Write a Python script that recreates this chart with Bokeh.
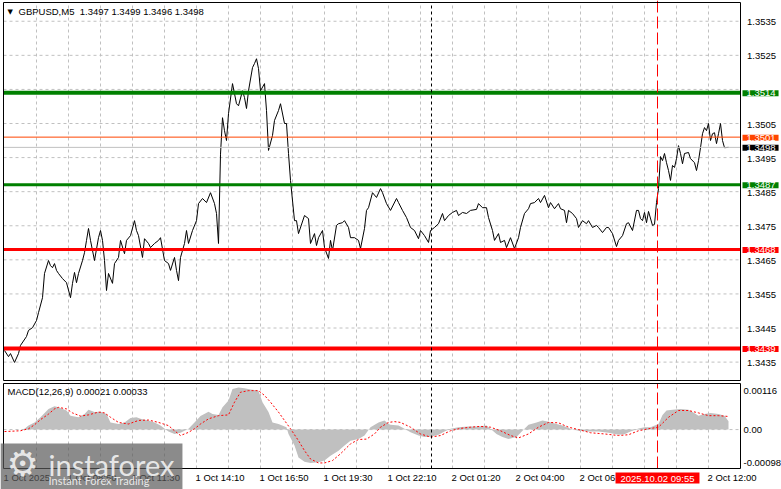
from bokeh.plotting import figure
from bokeh.layouts import column
from bokeh.models import Label, Range1d
from bokeh.embed import file_html
from bokeh.resources import INLINE

# ---------------- data ----------------
symbol_title = "GBPUSD,M5\u00a0\u00a01.3497 1.3499 1.3496 1.3498"
macd_title = "MACD(12,26,9) 0.00021 0.00033"

bar_idx = [
    0, 2, 3, 5, 7, 8, 11, 12, 14, 16,
    17, 19, 20, 22, 23, 24, 25, 26, 27, 29,
    31, 33, 34, 35, 36, 37, 39, 40, 41, 42,
    43, 45, 47, 48, 49, 50, 51, 52, 54, 55,
    57, 58, 60, 61, 63, 65, 66, 67, 69, 70,
    72, 73, 75, 77, 78, 80, 82, 83, 85, 86,
    87, 88, 90, 91, 92, 94, 96, 97, 99, 101,
    103, 105, 106, 107, 108, 109, 110, 111, 112, 114,
    116, 117, 119, 120, 121, 122, 124, 125, 126, 127,
    128, 130, 131, 132, 134, 135, 137, 138, 140, 141,
    142, 143, 145, 146, 147, 150, 152, 153, 155, 156,
    157, 159, 160, 162, 163, 164, 166, 167, 169, 170,
    172, 173, 175, 177, 178, 180, 181, 182, 184, 186,
    188, 189, 191, 193, 196, 197, 199, 201, 203, 205,
    207, 208, 210, 212, 213, 215, 217, 219, 220, 222,
    224, 226, 227, 229, 231, 233, 236, 237, 239, 241,
    242, 244, 245, 247, 248, 250, 251, 253, 255, 257,
    258, 260, 262, 263, 265, 267, 268, 270, 272, 273,
    275, 277, 278, 280, 281, 282, 284, 286, 287, 289,
    291, 292, 294, 296, 297, 299, 301, 302, 304, 306,
    307, 309, 311, 312, 314, 316, 317, 318, 319, 320,
    321, 322, 324, 325, 326, 327, 328, 329, 330, 331,
    332, 333, 334, 335, 336, 337, 338, 339, 340, 342,
    343, 345, 346, 347, 348, 349, 350, 351, 352, 353,
    354, 355, 356, 357, 358, 359, 360, 362,
]
close = [
    1.34384, 1.34366, 1.34375, 1.34349, 1.34375, 1.34399, 1.34425, 1.34443, 1.34451, 1.34472,
    1.34495, 1.34539, 1.34610, 1.34648, 1.34633, 1.34627, 1.34639, 1.34619, 1.34610, 1.34595,
    1.34583, 1.34539, 1.34581, 1.34613, 1.34583, 1.34610, 1.34648, 1.34671, 1.34707, 1.34742,
    1.34707, 1.34648, 1.34715, 1.34736, 1.34707, 1.34648, 1.34560, 1.34610, 1.34581, 1.34639,
    1.34657, 1.34707, 1.34668, 1.34707, 1.34721, 1.34765, 1.34736, 1.34721, 1.34657, 1.34712,
    1.34698, 1.34686, 1.34698, 1.34707, 1.34715, 1.34648, 1.34639, 1.34619, 1.34657, 1.34619,
    1.34589, 1.34657, 1.34698, 1.34736, 1.34698, 1.34736, 1.34765, 1.34815, 1.34830, 1.34818,
    1.34847, 1.34815, 1.34786, 1.34698, 1.34960, 1.35067, 1.35029, 1.35000, 1.35079, 1.35167,
    1.35108, 1.35102, 1.35146, 1.35126, 1.35094, 1.35146, 1.35214, 1.35226, 1.35240, 1.35211,
    1.35146, 1.35167, 1.35088, 1.34971, 1.35015, 1.35059, 1.35088, 1.35108, 1.35050, 1.35050,
    1.34962, 1.34883, 1.34765, 1.34765, 1.34727, 1.34780, 1.34771, 1.34698, 1.34727, 1.34692,
    1.34715, 1.34736, 1.34686, 1.34654, 1.34707, 1.34677, 1.34751, 1.34756, 1.34759, 1.34765,
    1.34745, 1.34715, 1.34715, 1.34707, 1.34683, 1.34742, 1.34795, 1.34803, 1.34847, 1.34833,
    1.34859, 1.34847, 1.34815, 1.34795, 1.34830, 1.34818, 1.34795, 1.34774, 1.34745, 1.34736,
    1.34712, 1.34736, 1.34721, 1.34701, 1.34736, 1.34745, 1.34756, 1.34786, 1.34765, 1.34780,
    1.34789, 1.34795, 1.34780, 1.34789, 1.34786, 1.34795, 1.34798, 1.34815, 1.34803, 1.34803,
    1.34774, 1.34736, 1.34707, 1.34727, 1.34701, 1.34707, 1.34686, 1.34715, 1.34683, 1.34715,
    1.34745, 1.34786, 1.34800, 1.34815, 1.34818, 1.34830, 1.34818, 1.34839, 1.34803, 1.34818,
    1.34800, 1.34815, 1.34800, 1.34795, 1.34759, 1.34795, 1.34786, 1.34771, 1.34745, 1.34765,
    1.34756, 1.34765, 1.34745, 1.34751, 1.34745, 1.34730, 1.34745, 1.34745, 1.34727, 1.34689,
    1.34707, 1.34721, 1.34756, 1.34759, 1.34736, 1.34795, 1.34795, 1.34771, 1.34765, 1.34789,
    1.34759, 1.34792, 1.34751, 1.34754, 1.34818, 1.34859, 1.34953, 1.34941, 1.34962, 1.34935,
    1.34912, 1.34883, 1.34927, 1.34921, 1.34947, 1.34985, 1.34962, 1.34932, 1.34962, 1.34965,
    1.34947, 1.34935, 1.34912, 1.34941, 1.34979, 1.35020, 1.35038, 1.35029, 1.35050, 1.35000,
    1.35020, 1.35023, 1.34991, 1.35020, 1.35050, 1.35000, 1.34979, 1.34980,
]
assert len(bar_idx) == len(close)

hist_bar = [
    0, 8, 10, 12, 15, 18, 22, 25, 27, 31, 33, 37, 40, 42, 45, 48, 51, 53, 57, 60,
    63, 66, 68, 72, 75, 78, 82, 85, 88, 92, 95, 98, 102, 104, 107, 109, 112, 114, 117, 120,
    123, 127, 129, 132, 134, 137, 141, 142, 145, 147, 150, 153, 157, 160, 163, 167, 170, 173, 177, 180,
    183, 187, 190, 192, 193, 197, 200, 203, 207, 210, 213, 217, 220, 223, 227, 232, 237, 241, 243, 246,
    249, 252, 256, 259, 262, 266, 269, 272, 276, 279, 283, 287, 292, 297, 302, 307, 310, 313, 317, 320,
    323, 327, 329, 331, 334, 338, 342, 344, 347, 350, 353, 357, 360, 362,
]
macd_main = [
    0.0, 0.0, 0.00002, 0.00010, 0.00018, 0.00031, 0.00052, 0.00059, 0.00056, 0.00048,
    0.00035, 0.00031, 0.00039, 0.00050, 0.00044, 0.00045, 0.00039, 0.00018, 0.00014, 0.00018,
    0.00029, 0.00031, 0.00027, 0.00023, 0.00018, 0.00010, -0.00005, -0.00011, -0.00008, 0.00002,
    0.00018, 0.00034, 0.00045, 0.00039, 0.00037, 0.00056, 0.00073, 0.00102, 0.00106, 0.00104,
    0.00101, 0.00098, 0.00069, 0.00044, 0.00018, 0.00014, 0.00006, -0.00011, -0.00040, -0.00070,
    -0.00081, -0.00084, -0.00082, -0.00078, -0.00066, -0.00053, -0.00040, -0.00028, -0.00024, -0.00015,
    0.00006, 0.00018, 0.00023, 0.00014, 0.00012, 0.00010, 0.00002, -0.00007, -0.00015, -0.00019,
    -0.00018, -0.00013, -0.00005, 0.00002, 0.00006, 0.00008, 0.00008, 0.00010, 0.00002, -0.00011,
    -0.00019, -0.00024, -0.00019, -0.00003, 0.00012, 0.00018, 0.00023, 0.00020, 0.00014, 0.00010,
    0.00002, -0.00003, -0.00005, -0.00005, -0.00008, -0.00013, -0.00012, -0.00005, 0.00003, 0.00006,
    0.00006, 0.00014, 0.00037, 0.00048, 0.00050, 0.00052, 0.00050, 0.00044, 0.00035, 0.00039,
    0.00042, 0.00039, 0.00035, 0.00021,
]
assert len(hist_bar) == len(macd_main)

sig_bar = [
    0, 8, 12, 15, 18, 22, 25, 27, 31, 34, 38, 42, 47, 50, 53, 57, 62, 67, 72, 77,
    82, 85, 88, 92, 95, 98, 102, 107, 112, 115, 118, 122, 127, 130, 133, 137, 140, 143, 147, 150,
    153, 157, 160, 164, 168, 173, 177, 181, 185, 188, 192, 195, 198, 203, 208, 213, 218, 223, 228, 233,
    238, 243, 248, 253, 257, 262, 267, 272, 277, 282, 287, 293, 300, 307, 312, 317, 322, 327, 332, 337,
    342, 347, 352, 357, 362,
]
macd_signal = [
    -0.00005, -0.00003, 0.00002, 0.00012, 0.00025, 0.00039, 0.00052, 0.00056, 0.00052, 0.00042,
    0.00034, 0.00037, 0.00044, 0.00042, 0.00031, 0.00018, 0.00014, 0.00023, 0.00024, 0.00018,
    0.00010, -0.00003, -0.00015, -0.00007, 0.00002, 0.00014, 0.00027, 0.00035, 0.00037, 0.00069,
    0.00094, 0.00098, 0.00098, 0.00086, 0.00069, 0.00044, 0.00023, 0.00002, -0.00028, -0.00053,
    -0.00074, -0.00084, -0.00084, -0.00078, -0.00061, -0.00036, -0.00025, -0.00024, -0.00011, 0.00006,
    0.00018, 0.00020, 0.00018, 0.00006, -0.00011, -0.00019, -0.00015, -0.00003, 0.00003, 0.00006,
    0.00008, 0.00006, -0.00003, -0.00015, -0.00021, -0.00011, 0.00006, 0.00018, 0.00017, 0.00006,
    0.00000, -0.00008, -0.00011, -0.00015, -0.00013, -0.00003, 0.00002, 0.00006, 0.00031, 0.00048,
    0.00048, 0.00042, 0.00035, 0.00035, 0.00033,
]
assert len(sig_bar) == len(macd_signal)

price_ticks = [1.3435, 1.3445, 1.3455, 1.3465, 1.3475, 1.3485, 1.3495, 1.3505, 1.3515, 1.3525, 1.3535]
grid_bars = [16, 32, 48, 64, 80, 96, 112, 128, 144, 160, 176, 192, 208, 224, 240,
             256, 272, 288, 304, 320, 336, 352]
time_tick_bars = [0, 32, 64, 96, 128, 160, 192, 224, 256, 288, 352]
time_tick_labels = ["1 Oct 2025", "1 Oct 08:50", "1 Oct 11:30", "1 Oct 14:10", "1 Oct 16:50",
                    "1 Oct 19:30", "1 Oct 22:10", "2 Oct 01:20", "2 Oct 04:00", "2 Oct 06:40",
                    "2 Oct 12:00"]
macd_scale_values = [0.00116, 0.0, -0.00098]
macd_scale_labels = ["0.00116", "0.00", "-0.00098"]

resistance_levels = [1.3514, 1.3487]
support_levels = [1.3468, 1.3439]
ask_price = 1.3501
bid_price = 1.3498
day_separator_bar = 213.5
current_bar = 326.5
current_time_label = "2025.10.02 09:55"

# ---------------- styling / geometry ----------------
FONT = "Liberation Sans"
FS = "9.5px"
GRID = "#C0C0C0"
GREEN = "#008000"
RED = "#FF0000"
ORANGE = "#FF4500"

CW = 781            # canvas width
MAIN_H = 382        # main panel canvas height
MACD_H = 107        # macd panel canvas height
DL, DR = 3, 740     # data area left / right (px)
MT, MB = 2, 380     # main data area top / bottom (px)
ST, SB = 1, 86      # macd data area top / bottom (px, inside macd canvas)

X0, X1 = -0.5, 368.0          # data-area x limits (bars)
PY0, PY1 = 1.34296, 1.35405   # main data-area price limits
MY0, MY1 = -0.00098, 0.00116  # macd data-area limits

bpp = (X1 - X0) / (DR - DL)
xr = Range1d(X0 - DL * bpp, X1 + (CW - DR) * bpp)
upp = (PY1 - PY0) / (MB - MT)
yr_main = Range1d(PY0 - (MAIN_H - MB) * upp, PY1 + MT * upp)
mpp = (MY1 - MY0) / (SB - ST)
yr_macd = Range1d(MY0 - (MACD_H - SB) * mpp, MY1 + ST * mpp)


def make_fig(h, yr):
    f = figure(width=CW, height=h, x_range=xr, y_range=yr, output_backend="svg",
               toolbar_location=None, x_axis_location=None, y_axis_location=None,
               min_border=0, min_border_left=0, min_border_right=0,
               min_border_top=0, min_border_bottom=0)
    f.outline_line_color = None
    f.background_fill_color = "white"
    f.border_fill_color = "white"
    f.xgrid.visible = False
    f.ygrid.visible = False
    return f


def text_label(fig, x, y, text, xo=0, yo=0, align="left", baseline="middle",
               color="black", size=FS, font=FONT, **kw):
    fig.add_layout(Label(x=x, y=y, x_offset=xo, y_offset=yo, text=text,
                         text_font=font, text_font_size=size, text_color=color,
                         text_align=align, text_baseline=baseline, **kw))


# ---------------- main price panel ----------------
p = make_fig(MAIN_H, yr_main)

# grid
p.segment(x0=X0, x1=X1, y0=price_ticks, y1=price_ticks,
          line_color=GRID, line_width=1, line_dash="3 3")
p.segment(x0=grid_bars, x1=grid_bars, y0=PY0, y1=PY1,
          line_color=GRID, line_width=1, line_dash="3 3")

# price
p.line(bar_idx, close, line_color="black", line_width=1)

# horizontal levels
p.segment(x0=X0, x1=X1, y0=bid_price, y1=bid_price, line_color=GRID, line_width=1)
p.segment(x0=X0, x1=X1, y0=ask_price, y1=ask_price, line_color=ORANGE, line_width=1)
res_widths = [4, 3]
sup_widths = [3, 4]
for lv, lw in zip(resistance_levels, res_widths):
    p.segment(x0=X0, x1=X1, y0=lv, y1=lv, line_color=GREEN, line_width=lw)
for lv, lw in zip(support_levels, sup_widths):
    p.segment(x0=X0, x1=X1, y0=lv, y1=lv, line_color=RED, line_width=lw)

# vertical markers
p.segment(x0=day_separator_bar, x1=day_separator_bar, y0=PY0, y1=PY1,
          line_color="black", line_width=1, line_dash="3 3")
p.segment(x0=current_bar, x1=current_bar, y0=PY0, y1=yr_main.end,
          line_color=RED, line_width=1, line_dash="12 4")

# frame
p.quad(left=X0, right=X1, bottom=PY0, top=PY1, fill_color=None, line_color="black", line_width=1)

# price scale
box_levels = resistance_levels + support_levels + [ask_price, bid_price]
for t in price_ticks:
    if min(abs(t - b) for b in box_levels) < 0.00015:
        continue
    text_label(p, X1, t, f"{t:.4f}", xo=6.5, yo=-1)


def price_box(fig, price, bg):
    fig.add_layout(Label(x=X1, y=price, x_offset=2, y_offset=-0.5, text=f"{price:.4f}",
                         text_font=FONT, text_font_size=FS, text_color="white",
                         text_align="left", text_baseline="middle",
                         background_fill_color=bg, background_fill_alpha=1.0,
                         padding=dict(left=4, right=3, top=0, bottom=0)))


for lv in resistance_levels:
    price_box(p, lv, GREEN)
for lv in support_levels:
    price_box(p, lv, RED)
price_box(p, ask_price, ORANGE)
price_box(p, bid_price, "black")

text_label(p, X0, PY1, "\u25bc", xo=4, yo=-9, font="DejaVu Sans", size="7px")
text_label(p, X0, PY1, symbol_title, xo=15, yo=-8.5)

# ---------------- MACD panel ----------------
m = make_fig(MACD_H, yr_macd)
m.segment(x0=grid_bars, x1=grid_bars, y0=MY0, y1=MY1,
          line_color=GRID, line_width=1, line_dash="3 3")
m.segment(x0=X0, x1=X1, y0=0.0, y1=0.0, line_color=GRID, line_width=1, line_dash="3 3")

m.varea(x=hist_bar, y1=0.0, y2=macd_main, fill_color=GRID, fill_alpha=1.0)
m.line(sig_bar, macd_signal, line_color=RED, line_width=1, line_dash="2 2")

m.segment(x0=day_separator_bar, x1=day_separator_bar, y0=MY0, y1=MY1,
          line_color="black", line_width=1, line_dash="3 3")
m.segment(x0=current_bar, x1=current_bar, y0=MY0, y1=MY1,
          line_color=RED, line_width=1, line_dash="12 4")

m.quad(left=X0, right=X1, bottom=MY0, top=MY1, fill_color=None, line_color="black", line_width=1)

text_label(m, X0, MY1, macd_title, xo=4, yo=-8)

scale_offsets = [-7, 0, 6]
for v, t, off in zip(macd_scale_values, macd_scale_labels, scale_offsets):
    text_label(m, X1, v, t, xo=3, yo=off)

for b, t in zip(time_tick_bars, time_tick_labels):
    text_label(m, b, MY0, t, xo=-1, yo=-3, baseline="top")

m.add_layout(Label(x=current_bar, y=MY0, y_offset=-4, text=current_time_label,
                   text_font=FONT, text_font_size=FS, text_color="white",
                   text_align="center", text_baseline="top",
                   background_fill_color=RED, background_fill_alpha=1.0,
                   padding=dict(left=5, right=5, top=0, bottom=0)))

# watermark
m.add_layout(Label(x=X0, y=MY0, x_offset=-3, y_offset=25, text="instaforex",
                   text_font="Lato", text_font_size="29px", text_color="#F4F4F4",
                   text_alpha=0.9, text_align="left", text_baseline="top",
                   background_fill_color="#5A5A5A", background_fill_alpha=0.7,
                   padding=dict(left=48, right=8, top=3, bottom=14)))
text_label(m, X0, MY0, "\u2699", xo=3, yo=26, baseline="top", font="DejaVu Sans",
           size="36px", color="#F4F4F4", text_alpha=0.9)
text_label(m, X0, MY0, "Instant Forex Trading", xo=45, yo=-5, baseline="top", font="Lato",
           size="11px", color="#F4F4F4", text_alpha=0.9)

layout = column(p, m, spacing=0)
open("out.html", "w").write(file_html(layout, INLINE))
